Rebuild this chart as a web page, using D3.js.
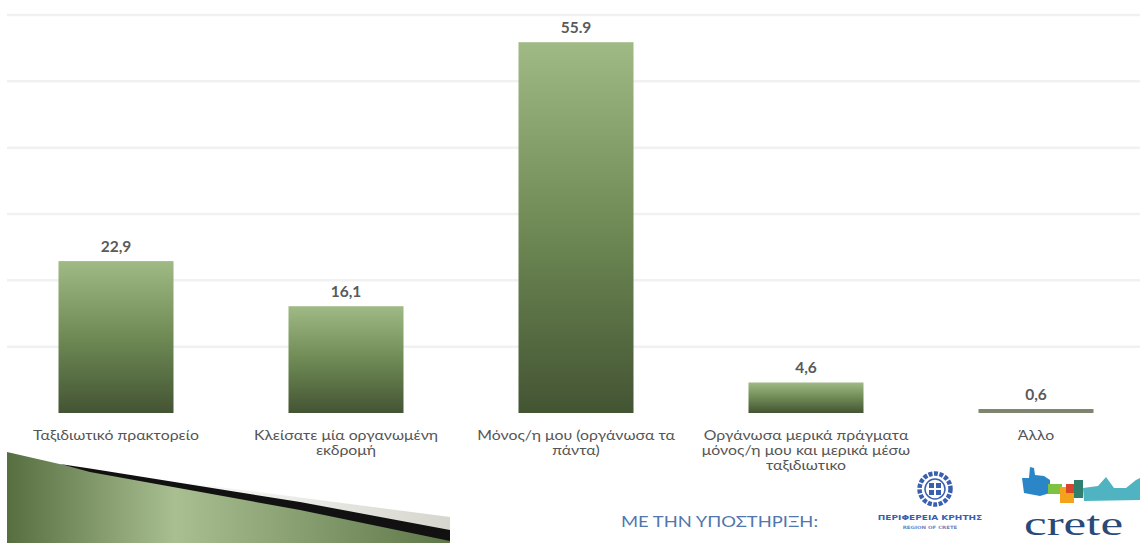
<!DOCTYPE html>
<html><head><meta charset="utf-8">
<script src="https://cdn.jsdelivr.net/npm/d3@7"></script>
<style>html,body{margin:0;padding:0;background:#fff;overflow:hidden}</style>
</head><body>
<svg id="chart" width="1140" height="543"></svg>
<script>
const categories = [
  ["Ταξιδιωτικό πρακτορείο"],
  ["Κλείσατε μία οργανωμένη", "εκδρομή"],
  ["Μόνος/η μου (οργάνωσα τα", "πάντα)"],
  ["Οργάνωσα μερικά πράγματα", "μόνος/η μου και μερικά μέσω", "ταξιδιωτικο"],
  ["Άλλο"]
];
const values = [22.9, 16.1, 55.9, 4.6, 0.6];
const valueLabels = ["22,9", "16,1", "55.9", "4,6", "0,6"];
const gridTicks = [10, 20, 30, 40, 50, 60];

const svg = d3.select("#chart");
const defs = svg.append("defs");
const g1 = defs.append("linearGradient").attr("id","barGrad").attr("x1",0).attr("y1",0).attr("x2",0).attr("y2",1);
g1.append("stop").attr("offset","0%").attr("stop-color","#a0ba86");
g1.append("stop").attr("offset","50%").attr("stop-color","#6f8a55");
g1.append("stop").attr("offset","100%").attr("stop-color","#435433");

const g2 = defs.append("linearGradient").attr("id","wedgeGrad").attr("x1",0).attr("y1",0).attr("x2",1).attr("y2",0);
g2.append("stop").attr("offset","0%").attr("stop-color","#566e40");
g2.append("stop").attr("offset","38%").attr("stop-color","#a9bf92");
g2.append("stop").attr("offset","100%").attr("stop-color","#5f7748");

const g3 = defs.append("linearGradient").attr("id","shineGrad").attr("x1",0).attr("y1",0).attr("x2",1).attr("y2",0);
g3.append("stop").attr("offset","0%").attr("stop-color","#ffffff");
g3.append("stop").attr("offset","100%").attr("stop-color","#d6d6ce");

const keys = categories.map((c,i)=>"c"+i);
const x = d3.scaleBand().domain(keys).range([1, 1151]).paddingInner(0.5).paddingOuter(0.25);
const y = d3.scaleLinear().domain([0, 60]).range([413, 15]);

// gridlines
svg.append("g").selectAll("line").data(gridTicks).join("line")
  .attr("x1", 7).attr("x2", 1140)
  .attr("y1", d=>y(d)).attr("y2", d=>y(d))
  .attr("stroke", "#f1f1f1").attr("stroke-width", 2.5);

// bars
svg.append("g").selectAll("rect").data(values).join("rect")
  .attr("x", (d,i)=>x(keys[i]))
  .attr("width", x.bandwidth())
  .attr("y", d=>y(d))
  .attr("height", d=>y(0)-y(d))
  .attr("fill", (d,i)=> d < 1 ? "#7d8470" : "url(#barGrad)");

// value labels
svg.append("g").selectAll("text").data(values).join("text")
  .attr("x", (d,i)=>x(keys[i]) + x.bandwidth()/2)
  .attr("y", d=>y(d) - 9)
  .attr("text-anchor","middle")
  .attr("font-family","Lato, 'Open Sans', sans-serif")
  .attr("font-size", 15.5).attr("font-weight","bold")
  .attr("fill","#5a5a5a")
  .text((d,i)=>valueLabels[i]);

// category labels (horizontally stretched like the reference)
const cl = svg.append("g").selectAll("text").data(categories).join("text")
  .attr("transform", (d,i)=>`translate(${x(keys[i]) + x.bandwidth()/2},440) scale(1.22,1)`)
  .attr("text-anchor","middle")
  .attr("font-family","Lato, 'Open Sans', sans-serif")
  .attr("font-size", 13)
  .attr("fill","#555");
cl.each(function(d){
  const t = d3.select(this);
  d.forEach((line,j)=>{
    t.append("tspan").attr("x", 0).attr("dy", j===0?0:15).text(line);
  });
});

// bottom-left decorative wedge
svg.append("path")
  .attr("d","M150,478 L450,517 L450,531 L150,480 Z")
  .attr("fill","url(#shineGrad)");
svg.append("path")
  .attr("d","M7,452 L90,471 L300,509 L450,539 L450,543 L7,543 Z")
  .attr("fill","url(#wedgeGrad)");
svg.append("path")
  .attr("d","M60,464 L90,468.5 L300,502 L450,530 L450,541 L300,510 L90,472 Z")
  .attr("fill","#111");

// support text
svg.append("text").attr("transform","translate(621,527) scale(1.15,1)")
  .attr("font-family","Lato, 'Open Sans', sans-serif").attr("font-size", 16)
  .attr("fill","#5276ad").text("ΜΕ ΤΗΝ ΥΠΟΣΤΗΡΙΞΗ:");

// Region of Crete emblem
const em = svg.append("g").attr("transform","translate(935,489)");
em.append("circle").attr("r",15.5).attr("fill","none").attr("stroke","#3a5fb0").attr("stroke-width",4.5).attr("stroke-dasharray","4 1.5");
em.append("circle").attr("r",10).attr("fill","#fff").attr("stroke","#3a5fb0").attr("stroke-width",1.5);
[[-6,-6],[1,-6],[-6,1],[1,1]].forEach(p=>{
  em.append("rect").attr("x",p[0]).attr("y",p[1]).attr("width",5).attr("height",5).attr("fill","#3a5fb0");
});
svg.append("text").attr("transform","translate(930,520) scale(1.2,1)").attr("text-anchor","middle")
  .attr("font-family","'DejaVu Sans', sans-serif").attr("font-size",7.5).attr("font-weight","bold")
  .attr("fill","#3a5fb0").text("ΠΕΡΙΦΕΡΕΙΑ ΚΡΗΤΗΣ");
svg.append("text").attr("transform","translate(930,529) scale(1.2,1)").attr("text-anchor","middle")
  .attr("font-family","'DejaVu Sans', sans-serif").attr("font-size",4.5).attr("font-weight","bold")
  .attr("fill","#6c86c4").text("REGION OF CRETE");

// crete logo
const cr = svg.append("g");
cr.append("path").attr("d","M1022,478 L1029,478 L1030,467 L1034,468 L1035,475 L1044,476 L1050,480 L1050,493 L1040,496 L1024,493 Z").attr("fill","#2b86c8");
cr.append("rect").attr("x",1048).attr("y",484).attr("width",14).attr("height",10).attr("fill","#7fc241");
cr.append("rect").attr("x",1060).attr("y",487).attr("width",14).attr("height",16).attr("fill","#f2a31b");
cr.append("rect").attr("x",1066).attr("y",484).attr("width",8).attr("height",9).attr("fill","#d8452b");
cr.append("rect").attr("x",1074).attr("y",480).attr("width",9).attr("height",18).attr("fill","#2f7f6d");
cr.append("path").attr("d","M1083,488 L1098,486 L1106,477 L1114,488 L1126,488 L1136,480 L1140,478 L1140,500 L1084,501 Z").attr("fill","#4fb3c2");
cr.append("text").attr("transform","translate(1024,535) scale(1.5,1)")
  .attr("font-family","'Liberation Serif', 'DejaVu Serif', serif").attr("font-size",34)
  .attr("fill","#294a78").text("crete");
</script>
</body></html>
